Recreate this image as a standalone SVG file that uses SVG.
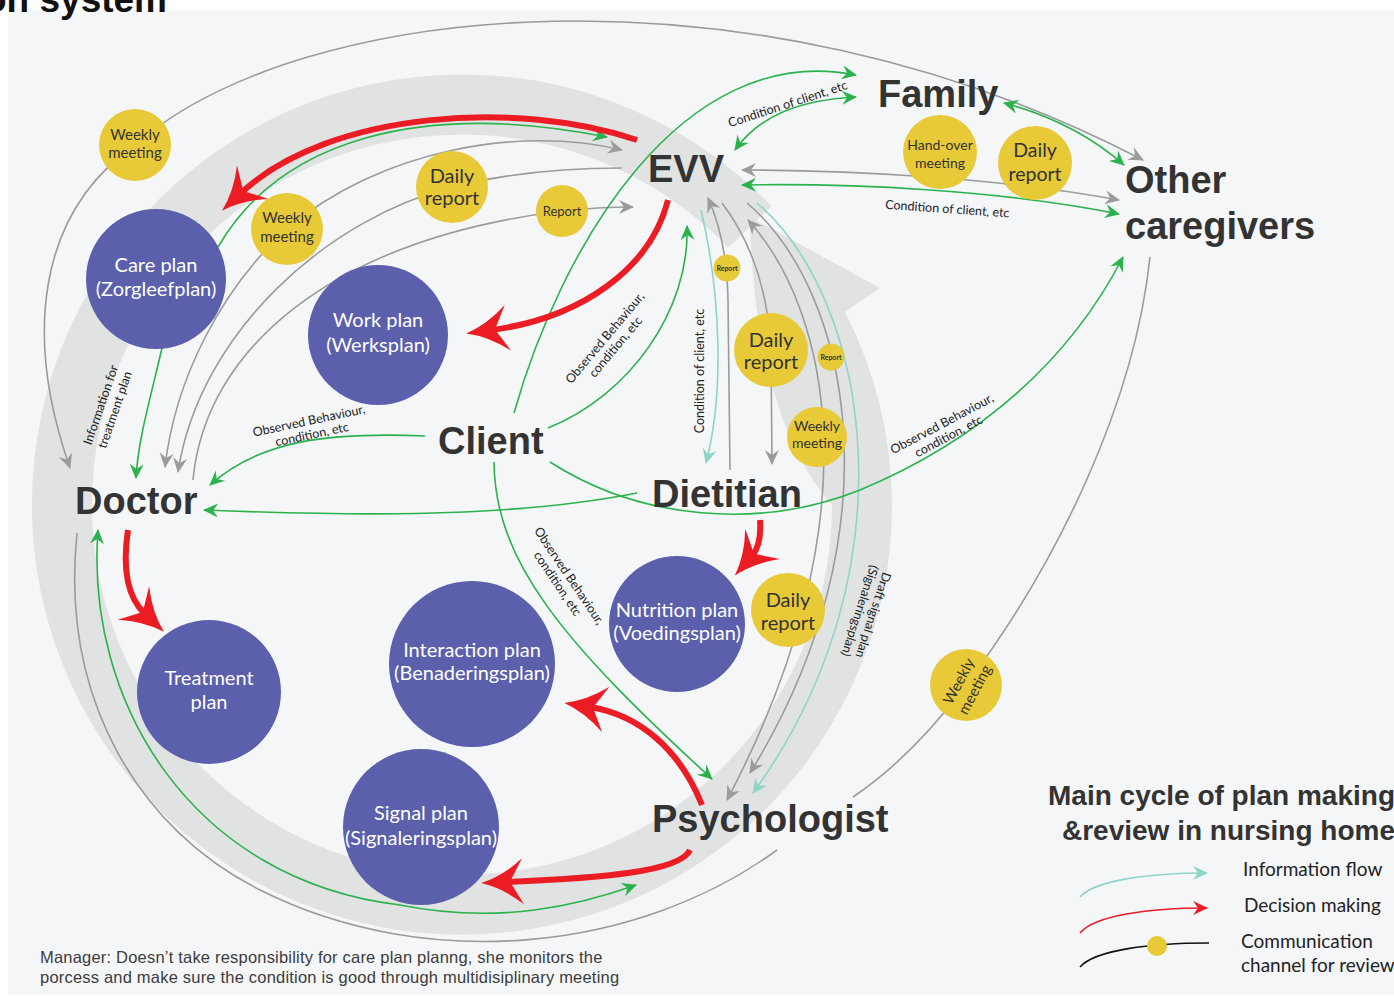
<svg xmlns="http://www.w3.org/2000/svg" width="1394" height="998" viewBox="0 0 1394 998">
<defs>
<style>
.bg{fill:#f5f6f8}
.band{fill:none;stroke:#e1e2e2;stroke-width:60}
.g{fill:none;stroke:#9b9b9b;stroke-width:1.6}
.gr{fill:none;stroke:#2bb24c;stroke-width:1.6}
.te{fill:none;stroke:#8fd4c8;stroke-width:1.6}
.rd{fill:none;stroke:#ec1c24;stroke-width:6}
.pc{fill:#5b5fac}
.yc{fill:#e8c938}
.role{font-family:"Liberation Sans",Arial,sans-serif;font-weight:bold;fill:#333;font-size:38px}
.pt{font-family:Lato,"Noto Sans",sans-serif;fill:#fff;font-size:20px;text-anchor:middle}
.yt{font-family:Lato,"Noto Sans",sans-serif;fill:#333;text-anchor:middle}
.lb{font-family:Lato,"Noto Sans",sans-serif;fill:#222;font-size:12.5px}
.lg{font-family:Lato,"Noto Sans",sans-serif;fill:#222;font-size:19px}
</style>
<marker id="ag" viewBox="-16 -8 18 16" refX="-1" refY="0" markerWidth="18" markerHeight="16" markerUnits="userSpaceOnUse" orient="auto-start-reverse"><path d="M0,0 L-15,-7 L-10,0 L-15,7 Z" fill="#9b9b9b"/></marker>
<marker id="agr" viewBox="-16 -8 18 16" refX="-1" refY="0" markerWidth="18" markerHeight="16" markerUnits="userSpaceOnUse" orient="auto-start-reverse"><path d="M0,0 L-15,-7 L-10,0 L-15,7 Z" fill="#2bb24c"/></marker>
<marker id="ate" viewBox="-16 -8 18 16" refX="-1" refY="0" markerWidth="18" markerHeight="16" markerUnits="userSpaceOnUse" orient="auto-start-reverse"><path d="M0,0 L-15,-7 L-10,0 L-15,7 Z" fill="#8fd4c8"/></marker>
<marker id="ard" viewBox="-16 -8 18 16" refX="-1" refY="0" markerWidth="18" markerHeight="16" markerUnits="userSpaceOnUse" orient="auto"><path d="M0,0 L-15,-7 L-10,0 L-15,7 Z" fill="#ec1c24"/></marker>
<marker id="aR" viewBox="-46 -26 48 52" refX="-26" refY="0" markerWidth="48" markerHeight="52" markerUnits="userSpaceOnUse" orient="auto"><path d="M0,0 Q-22,-6 -42,-23 L-29,0 L-42,23 Q-22,6 0,0 Z" fill="#ec1c24"/></marker>
</defs>

<rect class="bg" x="8" y="10" width="1386" height="985"/>
<text x="-16" y="12" font-family="Liberation Sans, Arial, sans-serif" font-weight="bold" font-size="37" fill="#111">on system</text>

<g id="cycle-band">
<path class="band" d="M 750,227 A 400 400 0 1 0 862,505"/>
<path fill="#e1e2e2" d="M 892,505 A 430 430 0 0 0 845,312 L 880,288 L 750,217 C 752,330 775,440 832,505 Z"/>
</g>

<g id="connectors">
<!-- gray -->
<path class="g" d="M 70,468 C 25,340 35,215 135,145 C 300,0 750,-45 1143,160" marker-start="url(#ag)" marker-end="url(#ag)"/>
<path class="g" d="M 1150,257 C 1135,400 1060,560 966,685 C 930,733 893,770 853,797"/>
<path class="g" d="M 777,850 C 640,950 430,975 260,890 C 140,830 60,700 77,533"/>
<path class="g" d="M 622,150 C 520,125 380,150 287,229 C 220,290 175,380 165,467" marker-start="url(#ag)" marker-end="url(#ag)"/>
<path class="g" d="M 622,168 C 560,168 500,175 452,187 C 330,218 200,330 178,472" marker-end="url(#ag)"/>
<path class="g" d="M 193,480 C 205,350 330,240 562,211 C 590,208 612,207 633,207" marker-end="url(#ag)"/>
<path class="g" d="M 742,170 C 850,170 1000,178 1119,200" marker-start="url(#ag)" marker-end="url(#ag)"/>
<path class="g" d="M 730,470 L 728,300 Q 727,240 708,198" marker-end="url(#ag)"/>
<path class="g" d="M 722,203 C 750,240 768,290 771,350 L 772,464" marker-end="url(#ag)"/>
<path class="g" d="M 748,220 C 830,310 875,520 727,800" marker-start="url(#ag)" marker-end="url(#ag)"/>
<path class="g" d="M 747,203 C 850,290 900,530 750,773" marker-end="url(#ag)"/>
<!-- teal -->
<path class="te" d="M 701,210 C 720,290 725,390 706,463" marker-end="url(#ate)"/>
<path class="te" d="M 757,203 C 870,300 915,570 753,793" marker-end="url(#ate)"/>
<!-- green -->
<path class="gr" d="M 218,247 C 280,140 420,100 607,137" marker-end="url(#agr)"/>
<path class="gr" d="M 162,348 C 150,400 138,440 136,478" marker-end="url(#agr)"/>
<path class="gr" d="M 425,436 C 330,432 260,440 210,485" marker-end="url(#agr)"/>
<path class="gr" d="M 637,493 C 500,520 330,515 204,510" marker-end="url(#agr)"/>
<path class="gr" d="M 514,413 C 560,250 680,40 856,75" marker-end="url(#agr)"/>
<path class="gr" d="M 735,150 C 760,115 800,100 856,97" marker-start="url(#agr)" marker-end="url(#agr)"/>
<path class="gr" d="M 1004,103 Q 1075,122 1124,165" marker-start="url(#agr)" marker-end="url(#agr)"/>
<path class="gr" d="M 742,185 C 850,183 1000,190 1119,214" marker-start="url(#agr)" marker-end="url(#agr)"/>
<path class="gr" d="M 548,428 C 630,395 690,310 687,226" marker-end="url(#agr)"/>
<path class="gr" d="M 494,462 C 495,560 560,640 712,779" marker-end="url(#agr)"/>
<path class="gr" d="M 550,462 C 640,520 760,530 860,490 C 980,440 1070,360 1123,257" marker-end="url(#agr)"/>
<path class="gr" d="M 98,530 C 85,700 190,880 400,905 C 500,925 580,905 636,885" marker-start="url(#agr)" marker-end="url(#agr)"/>
<!-- red -->
<path class="rd" d="M 637,140 C 520,100 330,110 241,193" marker-end="url(#aR)"/>
<path class="rd" d="M 668,200 C 650,270 580,318 492,330" marker-end="url(#aR)"/>
<path class="rd" d="M 760,520 C 761,535 759,548 752,556" marker-end="url(#aR)"/>
<path class="rd" d="M 128,530 C 122,570 128,598 145,614" marker-end="url(#aR)"/>
<path class="rd" d="M 702,805 C 680,750 640,715 590,707" marker-end="url(#aR)"/>
<path class="rd" d="M 690,850 C 680,872 600,878 507,882" marker-end="url(#aR)"/>
</g>

<g id="connector-labels">
<text class="lb" transform="translate(789,108) rotate(-18)" text-anchor="middle">Condition of client, etc</text>
<text class="lb" transform="translate(947,213) rotate(4)" text-anchor="middle">Condition of client, etc</text>
<text class="lb" transform="translate(605,338) rotate(-50)" text-anchor="middle"><tspan x="0" y="4">Observed Behaviour,</tspan><tspan x="0" y="18">condition, etc</tspan></text>
<text class="lb" transform="translate(704,371) rotate(-90)" text-anchor="middle">Condition of client, etc</text>
<text class="lb" transform="translate(101,405) rotate(-71)" text-anchor="middle"><tspan x="0" y="4">Information for</tspan><tspan x="0" y="19">treatment plan</tspan></text>
<text class="lb" transform="translate(309,421) rotate(-12)" text-anchor="middle"><tspan x="0" y="4">Observed Behaviour,</tspan><tspan x="0" y="18">condition, etc</tspan></text>
<text class="lb" transform="translate(942,424) rotate(-28)" text-anchor="middle"><tspan x="0" y="4">Observed Behaviour,</tspan><tspan x="0" y="18">condition, etc</tspan></text>
<text class="lb" transform="translate(569,576) rotate(56)" text-anchor="middle"><tspan x="0" y="4">Observed Behaviour,</tspan><tspan x="0" y="18">condition, etc</tspan></text>
<text class="lb" transform="translate(873,615) rotate(108)" text-anchor="middle" font-size="11.5"><tspan x="0" y="4">Draft signal plan</tspan><tspan x="0" y="18">(Signaleringsplan)</tspan></text>
</g>

<g id="care-plan"><circle class="pc" cx="156" cy="279" r="70"/><text class="pt" x="156" y="272">Care plan</text><text class="pt" x="156" y="296">(Zorgleefplan)</text></g>
<g id="work-plan"><circle class="pc" cx="378" cy="335" r="70"/><text class="pt" x="378" y="327">Work plan</text><text class="pt" x="378" y="352">(Werksplan)</text></g>
<g id="treatment-plan"><circle class="pc" cx="209" cy="692" r="72"/><text class="pt" x="209" y="685">Treatment</text><text class="pt" x="209" y="709">plan</text></g>
<g id="interaction-plan"><circle class="pc" cx="472" cy="664" r="83"/><text class="pt" x="472" y="657">Interaction plan</text><text class="pt" x="472" y="680">(Benaderingsplan)</text></g>
<g id="signal-plan"><circle class="pc" cx="421" cy="827" r="78"/><text class="pt" x="421" y="820">Signal plan</text><text class="pt" x="421" y="845">(Signaleringsplan)</text></g>
<g id="nutrition-plan"><circle class="pc" cx="677" cy="624" r="68"/><text class="pt" x="677" y="617">Nutrition plan</text><text class="pt" x="677" y="640">(Voedingsplan)</text></g>

<g id="weekly-meeting-1"><circle class="yc" cx="135" cy="145" r="36"/><text class="yt" font-size="15" x="135" y="140">Weekly</text><text class="yt" font-size="15" x="135" y="158">meeting</text></g>
<g id="weekly-meeting-2"><circle class="yc" cx="287" cy="229" r="36"/><text class="yt" font-size="15" x="287" y="223">Weekly</text><text class="yt" font-size="15" x="287" y="242">meeting</text></g>
<g id="daily-report-1"><circle class="yc" cx="452" cy="187" r="36"/><text class="yt" font-size="20" x="452" y="183">Daily</text><text class="yt" font-size="20" x="452" y="205">report</text></g>
<g id="report-1"><circle class="yc" cx="562" cy="211" r="26"/><text class="yt" font-size="13" x="562" y="216">Report</text></g>
<g id="report-2"><circle class="yc" cx="727" cy="268" r="13.5"/><text class="yt" font-size="7" font-weight="bold" x="727" y="270.5">Report</text></g>
<g id="daily-report-2"><circle class="yc" cx="771" cy="350" r="37"/><text class="yt" font-size="20" x="771" y="347">Daily</text><text class="yt" font-size="20" x="771" y="369">report</text></g>
<g id="report-3"><circle class="yc" cx="831" cy="357" r="13.5"/><text class="yt" font-size="7" font-weight="bold" x="831" y="359.5">Report</text></g>
<g id="weekly-meeting-3"><circle class="yc" cx="817" cy="437" r="30"/><text class="yt" font-size="14" x="817" y="431">Weekly</text><text class="yt" font-size="14" x="817" y="448">meeting</text></g>
<g id="hand-over-meeting"><circle class="yc" cx="940" cy="152" r="37"/><text class="yt" font-size="14" x="940" y="150">Hand-over</text><text class="yt" font-size="14" x="940" y="168">meeting</text></g>
<g id="daily-report-3"><circle class="yc" cx="1035" cy="163" r="37"/><text class="yt" font-size="19.5" x="1035" y="157">Daily</text><text class="yt" font-size="19.5" x="1035" y="181">report</text></g>
<g id="daily-report-4"><circle class="yc" cx="788" cy="610" r="37"/><text class="yt" font-size="20" x="788" y="607">Daily</text><text class="yt" font-size="20" x="788" y="630">report</text></g>
<g id="weekly-meeting-4"><circle class="yc" cx="966" cy="685" r="36"/><text class="yt" font-size="15" transform="translate(966,685) rotate(-62)"><tspan x="0" y="-3">Weekly</tspan><tspan x="0" y="15">meeting</tspan></text></g>

<g id="evv"><text class="role" x="648" y="182">EVV</text></g>
<g id="family"><text class="role" x="878" y="107">Family</text></g>
<g id="other-caregivers"><text class="role" x="1125" y="193">Other</text><text class="role" x="1125" y="239">caregivers</text></g>
<g id="client"><text class="role" x="438" y="454">Client</text></g>
<g id="dietitian"><text class="role" x="652" y="507">Dietitian</text></g>
<g id="doctor"><text class="role" x="75" y="514">Doctor</text></g>
<g id="psychologist"><text class="role" x="652" y="832">Psychologist</text></g>

<g id="legend">
<text font-family="Liberation Sans, Arial, sans-serif" font-weight="bold" font-size="28" fill="#333"><tspan x="1048" y="805">Main cycle of plan making</tspan><tspan x="1062" y="840">&amp;review in nursing home</tspan></text>
<path class="te" d="M 1080,897 C 1095,880 1150,873 1207,873" marker-end="url(#ate)"/>
<path fill="none" stroke="#ec1c24" stroke-width="1.6" d="M 1080,933 C 1095,915 1150,908 1207,908" marker-end="url(#ard)"/>
<path fill="none" stroke="#111" stroke-width="1.6" d="M 1080,967 C 1095,950 1150,943 1209,943"/>
<circle class="yc" cx="1157" cy="946" r="10"/>
<text class="lg" x="1243" y="876">Information flow</text>
<text class="lg" x="1244" y="912">Decision making</text>
<text class="lg" x="1241" y="948">Communication</text>
<text class="lg" x="1241" y="972">channel for review</text>
</g>

<g id="note">
<text font-family="Liberation Sans, Arial, sans-serif" font-size="16.5" letter-spacing="0.2" fill="#3c3c3c"><tspan x="40" y="963">Manager: Doesn’t take responsibility for care plan planng, she monitors the</tspan><tspan x="40" y="983">porcess and make sure the condition is good through multidisiplinary meeting</tspan></text>
</g>
</svg>
